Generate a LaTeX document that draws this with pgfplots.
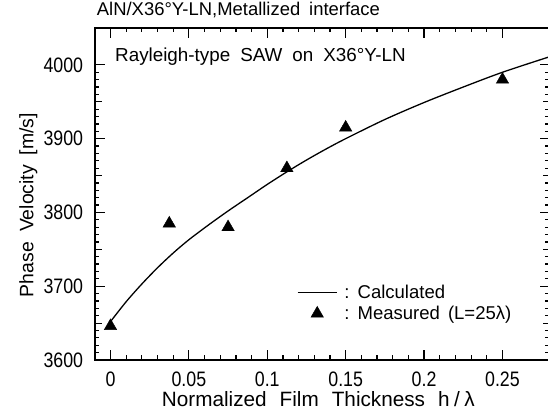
\documentclass[border=0pt]{standalone}
\usepackage{fontspec}
\setmainfont[FakeStretch=0.85]{Liberation Sans}
\newfontfamily\wf{Liberation Sans}
\usepackage{pgfplots}
\pgfplotsset{compat=1.18}
\usetikzlibrary{calc}

\begin{document}
\begin{tikzpicture}
\begin{axis}[name=ax, scale only axis, width=454.7bp, height=332bp,
 xmin=-0.01, xmax=0.28, ymin=3600, ymax=4050,
 xtick={0,0.05,0.1,0.15,0.2,0.25}, minor x tick num=4,
 xticklabels={0,0.05,0.1,0.15,0.2,0.25},
 ytick={3600,3700,3800,3900,4000}, minor y tick num=9,
 yticklabels={3600,3700,3800,3900,4000},
 extra y ticks={3650,3750,3850,3950}, extra y tick labels={},
 extra y tick style={major tick length=7bp},
 major tick length=10bp, minor tick length=4.5bp,
 tick align=inside,
 every tick/.append style={line width=1.2bp, black},
 axis line style={line width=2.5bp},
 tick label style={font=\fontsize{21}{21}\selectfont, inner sep=0pt},
 xticklabel style={anchor=base, yshift=-26.7bp},
 yticklabel style={anchor=east, xshift=-11.5bp},
 xlabel={Normalized\hspace{13bp}Film\hspace{13bp}Thickness\hspace{13bp}h\kern4.5bp/\kern4.5bp λ},
 ylabel={Phase\hspace{10bp}Velocity\hspace{10bp}[m/s]},
 xlabel style={at={(axis description cs:0.4917,-0.1407)}, anchor=base, inner sep=0pt, font=\wf\fontsize{20.8}{20.8}\selectfont},
 ylabel style={at={(axis description cs:-0.1353,0.467)}, anchor=base, inner sep=0pt, font=\wf\fontsize{19.5}{19.5}\selectfont},
 title={AlN/X36°Y-LN,Metallized\hspace{9bp}interface},
 title style={at={(axis description cs:0.0042,1.019)}, anchor=base west, inner sep=0pt, font=\wf\fontsize{18.5}{18.5}\selectfont},
 legend style={draw=none, fill=none, at={(axis description cs:0.444,0.226)}, anchor=north west,
   inner sep=0pt, font=\wf\fontsize{18.6}{18.6}\selectfont, cells={anchor=west},
   nodes={inner sep=0pt}, row sep=6bp,
   /tikz/every odd column/.append style={column sep=7bp}},
]
\addplot[black, line width=1.3bp, smooth,
  legend image code/.code={\draw[black, line width=1.3bp] (0bp,0bp) -- (39.3bp,0bp);}]
 coordinates {
 (0,3652) (0.01,3679) (0.02,3703) (0.03,3725) (0.04,3745) (0.05,3763)
 (0.0625,3783) (0.075,3802) (0.0875,3820) (0.1,3838) (0.1125,3855) (0.125,3871)
 (0.1375,3886) (0.15,3900) (0.175,3926) (0.2,3949) (0.225,3970) (0.25,3990) (0.28,4011)
 };
\addlegendentry{:\hspace{8bp}Calculated}
\addplot[only marks, mark=triangle*, mark size=7.2bp, black,
  legend image code/.code={\path (0bp,0bp) (39.3bp,0bp); \draw plot[mark=triangle*, mark size=7.2bp, black] coordinates {(19.7bp,0bp)};}]
 coordinates {
 (0,3646) (0.0375,3785) (0.075,3780) (0.1125,3860) (0.15,3915) (0.25,3980)
 };
\addlegendentry{:\hspace{8bp}Measured\hspace{8bp}(L=25λ)}
\node[anchor=base west, inner sep=0pt, font=\wf\fontsize{18.9}{18.9}\selectfont] at (axis description cs:0.0444,0.8985) {Rayleigh-type\hspace{10bp}SAW\hspace{10bp}on\hspace{10bp}X36°Y-LN};
\end{axis}
\pgfresetboundingbox
\path[use as bounding box] ($(ax.south west)+(-94.8bp,-52bp)$) rectangle ($(ax.south west)+(453.2bp,360bp)$);
\end{tikzpicture}
\end{document}
